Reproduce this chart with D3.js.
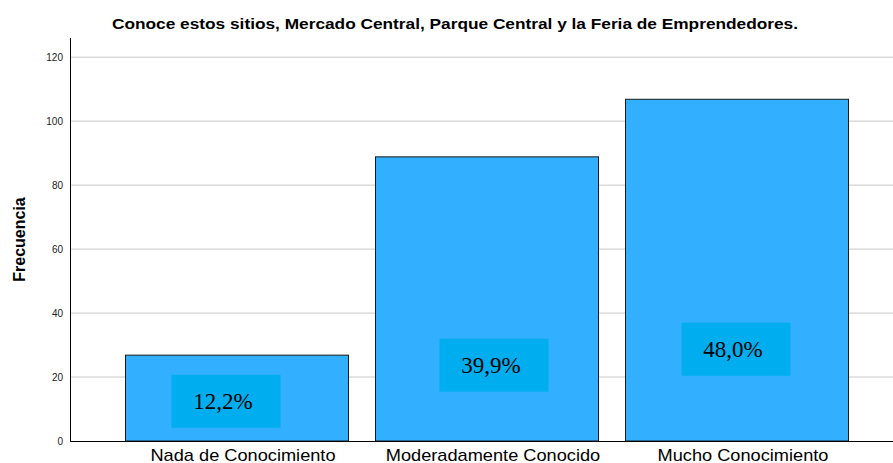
<!DOCTYPE html>
<html>
<head>
<meta charset="utf-8">
<script src="https://cdn.jsdelivr.net/npm/d3@7"></script>
<style>
  body { margin: 0; background: #fff; }
  svg { display: block; }
</style>
</head>
<body>
<div id="chart"></div>
<script>
// Data
const categories = ["Nada de Conocimiento", "Moderadamente Conocido", "Mucho Conocimiento"];
const counts = [27, 89, 107];
const percentLabels = ["12,2%", "39,9%", "48,0%"];
// where each percentage box sits (value units of the y axis, offset in px from bar centre)
const labelY = [12.4, 23.7, 28.7];
const labelDx = [-11, 7, -1];
const yTicks = [0, 20, 40, 60, 80, 100, 120];

const title = "Conoce estos sitios, Mercado Central, Parque Central y la Feria de Emprendedores.";

const W = 893, H = 463;
const svg = d3.select("#chart").append("svg")
    .attr("width", W)
    .attr("height", H);

const plotLeft = 70, plotRight = 893, plotBottom = 441;

const y = d3.scaleLinear()
    .domain([0, 126])
    .range([plotBottom, 38]);

const x = d3.scaleBand()
    .domain(categories)
    .range([112, 862])
    .paddingInner(0.104)
    .paddingOuter(0.052);

// Title
svg.append("text")
    .attr("x", 455)
    .attr("y", 29)
    .attr("text-anchor", "middle")
    .attr("textLength", 686)
    .attr("lengthAdjust", "spacingAndGlyphs")
    .style("font-family", "Liberation Sans, Arial, sans-serif")
    .style("font-weight", "bold")
    .style("font-size", "15.5px")
    .attr("fill", "#000")
    .text(title);

// Gridlines
svg.append("g")
    .selectAll("line")
    .data(yTicks.filter(d => d > 0))
    .join("line")
    .attr("x1", plotLeft)
    .attr("x2", plotRight)
    .attr("y1", d => y(d))
    .attr("y2", d => y(d))
    .attr("stroke", "#c8c8c8")
    .attr("stroke-width", 1);

// Y axis
const yAxis = svg.append("g")
    .attr("transform", `translate(${plotLeft},0)`)
    .call(d3.axisLeft(y).tickValues(yTicks).tickSize(0).tickPadding(7));
yAxis.select(".domain").remove();
yAxis.selectAll("text")
    .style("font-family", "Liberation Sans, Arial, sans-serif")
    .style("font-size", "10px")
    .attr("fill", "#222");

svg.append("line")
    .attr("x1", plotLeft + 0.5).attr("x2", plotLeft + 0.5)
    .attr("y1", 38).attr("y2", plotBottom)
    .attr("stroke", "#000");

// Y label
svg.append("text")
    .attr("transform", `translate(25,${(y(0) + y(126)) / 2}) rotate(-90)`)
    .attr("text-anchor", "middle")
    .style("font-family", "Liberation Sans, Arial, sans-serif")
    .style("font-weight", "bold")
    .style("font-size", "16px")
    .text("Frecuencia");

// Bars
svg.append("g")
    .selectAll("rect")
    .data(counts)
    .join("rect")
    .attr("x", (d, i) => x(categories[i]) + 0.5)
    .attr("y", d => y(d) + 0.5)
    .attr("width", x.bandwidth() - 1)
    .attr("height", d => y(0) - y(d) - 0.5)
    .attr("fill", "#33afff")
    .attr("stroke", "#1a1a1a")
    .attr("stroke-width", 1);

// X axis
const xAxis = svg.append("g")
    .attr("transform", `translate(0,${plotBottom})`)
    .call(d3.axisBottom(x).tickSize(0).tickPadding(8));
xAxis.select(".domain").remove();
xAxis.selectAll("text")
    .attr("x", 6)
    .style("font-family", "Liberation Sans, Arial, sans-serif")
    .style("font-size", "17px")
    .attr("fill", "#000")
    .each(function() {
        // the original image is slightly stretched horizontally
        const w = this.getComputedTextLength();
        d3.select(this)
            .attr("textLength", w * 1.07)
            .attr("lengthAdjust", "spacingAndGlyphs");
    });

svg.append("line")
    .attr("x1", plotLeft).attr("x2", plotRight)
    .attr("y1", plotBottom + 0.5).attr("y2", plotBottom + 0.5)
    .attr("stroke", "#000");

// Percentage boxes
const boxW = 109, boxH = 53;
const labels = svg.append("g")
    .selectAll("g")
    .data(percentLabels)
    .join("g")
    .attr("transform", (d, i) =>
        `translate(${x(categories[i]) + x.bandwidth() / 2 + labelDx[i]},${y(labelY[i])})`);

labels.append("rect")
    .attr("x", -boxW / 2)
    .attr("y", -boxH / 2)
    .attr("width", boxW)
    .attr("height", boxH)
    .attr("fill", "#00aeef");

labels.append("text")
    .attr("x", -3)
    .attr("text-anchor", "middle")
    .attr("dy", "0.35em")
    .style("font-family", "Liberation Serif, 'Times New Roman', serif")
    .style("font-size", "23px")
    .attr("fill", "#000")
    .text(d => d);
</script>
</body>
</html>
